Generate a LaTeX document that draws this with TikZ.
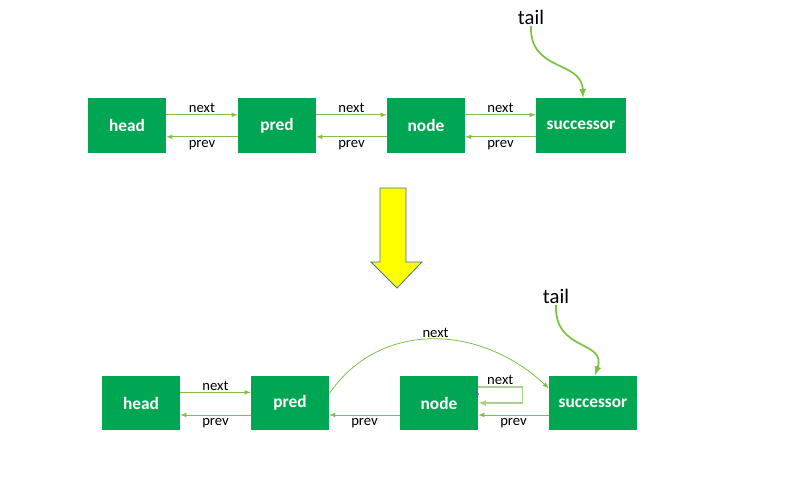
\documentclass[tikz,border=0pt]{standalone}
\usepackage{fontspec}
\setmainfont{Carlito}
\usepackage{tikz}
\usetikzlibrary{calc,arrows,positioning}
\definecolor{boxgreen}{RGB}{0,166,81}
\definecolor{linkgreen}{RGB}{125,194,66}
\definecolor{loopgreen}{RGB}{169,208,142}
\definecolor{arrowyellow}{RGB}{255,255,0}
\definecolor{arrowedge}{RGB}{65,113,156}
\tikzstyle{elem} = [rectangle, fill=boxgreen, text=white, font=\fontsize{13}{15}\selectfont\bfseries, minimum width=58.5pt, minimum height=41pt, inner sep=0pt]
\tikzstyle{arrow} = [draw=linkgreen, -latex, line width=0.6pt]
\tikzstyle{lbl} = [font=\fontsize{11}{13}\selectfont, inner sep=1pt]
\tikzstyle{tailarrow} = [draw=linkgreen, -latex, line width=1.3pt]

\begin{document}
\begin{tikzpicture}[x=0.75pt,y=-0.75pt]
    \useasboundingbox (0,0) rectangle (802,478);
    % before
    \node[elem] (head1) at (127,125.5) {head};
    \node[elem] (pred1) at (277,125.5) {pred};
    \node[elem] (node1) at (426,125.5) {node};
    \node[elem, minimum width=67.5pt] (succ1) at (581,125.5) {successor};
    \draw[arrow] ([yshift=8pt]head1.east) -- node[lbl,above]{next} ([yshift=8pt]pred1.west);
    \draw[arrow] ([yshift=8pt]pred1.east) -- node[lbl,above]{next} ([yshift=8pt]node1.west);
    \draw[arrow] ([yshift=8pt]node1.east) -- node[lbl,above]{next} ([yshift=8pt]succ1.west);
    \draw[arrow] ([yshift=-8.5pt]pred1.west) -- node[lbl,below=1.5pt]{prev} ([yshift=-8.5pt]head1.east);
    \draw[arrow] ([yshift=-8.5pt]node1.west) -- node[lbl,below=1.5pt]{prev} ([yshift=-8.5pt]pred1.east);
    \draw[arrow] ([yshift=-8.5pt]succ1.west) -- node[lbl,below=1.5pt]{prev} ([yshift=-8.5pt]node1.east);
    \node[font=\fontsize{15.5}{17}\selectfont, inner sep=1pt] (tail1) at (531,17) {tail};
    \draw[tailarrow] (tail1.south) .. controls (529,72) and (582,60) .. ([xshift=1.5pt]succ1.north);

    % yellow arrow
    \filldraw[fill=arrowyellow, draw=arrowedge, line width=0.6pt]
      (380,188) -- (406,188) -- (406,262) -- (422,262) -- (397,288) -- (371,262) -- (380,262) -- cycle;

    % after
    \node[elem] (head2) at (141,403) {head};
    \node[elem] (pred2) at (290,403) {pred};
    \node[elem] (node2) at (439,403) {node};
    \node[elem, minimum width=66pt] (succ2) at (593,403) {successor};
    \draw[arrow] ([yshift=8pt]head2.east) -- node[lbl,above]{next} ([yshift=8pt]pred2.west);
    \draw[arrow] ([yshift=7pt]pred2.east) .. controls (378,322) and (478,322) .. node[lbl,above,pos=0.52]{next} ([yshift=11pt]succ2.west);
    \draw[draw=loopgreen, -latex, line width=1pt] ([yshift=12pt]node2.east) -- ++(44,0) |- node[lbl,pos=0.75,above=12.5pt]{next} (node2.east);
    \fill[arrowedge] (475,395) -- (479,395) -- (477,391) -- cycle;
    \draw[arrow] ([yshift=-9pt]pred2.west) -- node[lbl,below=1.5pt]{prev} ([yshift=-9pt]head2.east);
    \draw[arrow] ([yshift=-9pt]node2.west) -- node[lbl,below=1.5pt]{prev} ([yshift=-9pt]pred2.east);
    \draw[arrow] ([yshift=-9pt]succ2.west) -- node[lbl,below=1.5pt]{prev} ([yshift=-9pt]node2.east);
    \node[font=\fontsize{15.5}{17}\selectfont, inner sep=1pt] (tail2) at (556,296) {tail};
    \draw[tailarrow] (tail2.south) .. controls (554,352) and (607,340) .. ([xshift=1.5pt]succ2.north);
\end{tikzpicture}
\end{document}
